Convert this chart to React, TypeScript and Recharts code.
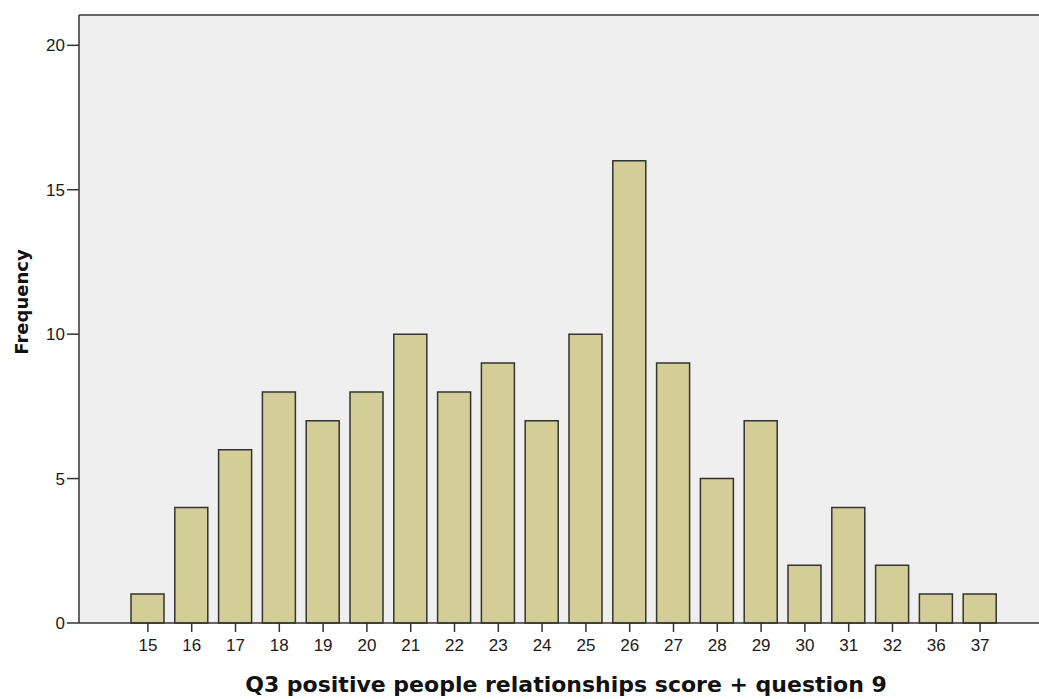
import React from "react";
import { BarChart, Bar, XAxis, YAxis, CartesianGrid, ReferenceLine, Label } from "recharts";

const categories = ["15","16","17","18","19","20","21","22","23","24","25","26","27","28","29","30","31","32","36","37"];
const frequencies = [1,4,6,8,7,8,10,8,9,7,10,16,9,5,7,2,4,2,1,1];
const yTicks = [0,5,10,15,20];
const yMax = 21.05;

const data = categories.map((c, i) => ({ score: c, freq: frequencies[i] }));

const tickFont = { fontFamily: "Liberation Sans, Arial, sans-serif", fontSize: 17, fill: "#1a1a1a" };

export default function App() {
  return (
    <div style={{ position: "fixed", left: 0, top: 0, width: 1039, height: 699, overflow: "hidden", background: "#fff" }}>
      <BarChart width={1053} height={699} data={data} margin={{ top: 15, right: 0, bottom: 0, left: 0 }} barSize={33}>
        <CartesianGrid fill="#efefef" horizontal={false} vertical={false} />
        <XAxis
          dataKey="score"
          height={76}
          padding={{ left: 47, right: 51 }}
          tickSize={9}
          tickMargin={7}
          tick={tickFont}
          axisLine={{ stroke: "#333", strokeWidth: 1.5 }}
          tickLine={{ stroke: "#333", strokeWidth: 1.5 }}
        >
          <Label
            content={(props: any) => {
              const vb = props.viewBox || { x: 79, y: 623, width: 974 };
              return (
                <text x={vb.x + vb.width / 2} y={vb.y + 69} textAnchor="middle"
                  style={{ fontFamily: "DejaVu Sans, Verdana, sans-serif", fontWeight: "bold", fontSize: 22, fill: "#111" }}>
                  Q3 positive people relationships score + question 9
                </text>
              );
            }}
          />
        </XAxis>
        <YAxis
          width={79}
          domain={[0, yMax]}
          ticks={yTicks}
          interval={0}
          tickSize={12}
          tickMargin={2}
          tick={tickFont}
          axisLine={{ stroke: "#333", strokeWidth: 1.5 }}
          tickLine={{ stroke: "#333", strokeWidth: 1.5 }}
        >
          <Label
            content={() => (
              <text x={28} y={302} textAnchor="middle" transform="rotate(-90 28 302)"
                style={{ fontFamily: "DejaVu Sans, Verdana, sans-serif", fontWeight: "bold", fontSize: 18, fill: "#111" }}>
                Frequency
              </text>
            )}
          />
        </YAxis>
        <ReferenceLine y={yMax} stroke="#666" strokeWidth={2} />
        <Bar dataKey="freq" fill="#d3ce97" stroke="#333" strokeWidth={1.5} isAnimationActive={false} />
      </BarChart>
    </div>
  );
}
